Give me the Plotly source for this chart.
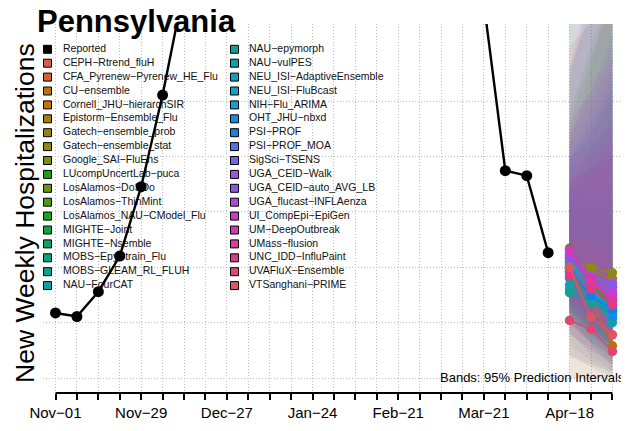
import plotly.graph_objects as go
import pandas as pd

# reported weekly hospitalizations (Saturdays)
reported_dates = pd.date_range("2025-11-01", "2026-04-11", freq="7D")
reported = [587, 555, 779, 1101, 1727, 2554, 3520, 4800, 6100, 6500, 5600, 4700,
            4100, 3900, 3800, 3900, 4000, 4100, 4000, 3800, 3380, 1871, 1826, 1131]

forecast_dates = ["2026-04-18", "2026-04-25", "2026-05-02"]

models = [
    "CEPH-Rtrend_fluH", "CFA_Pyrenew-Pyrenew_HE_Flu", "CU-ensemble",
    "Cornell_JHU-hierarchSIR", "Epistorm-Ensemble_Flu", "Gatech-ensemble_prob",
    "Gatech-ensemble_stat", "Google_SAI-FluEns", "LUcompUncertLab-puca",
    "LosAlamos-DoSDo", "LosAlamos-ThinMint", "LosAlamos_NAU-CModel_Flu",
    "MIGHTE-Joint", "MIGHTE-Nsemble", "MOBS-EpyStrain_Flu", "MOBS-GLEAM_RL_FLUH",
    "NAU-FourCAT", "NAU-epymorph", "NAU-vulPES", "NEU_ISI-AdaptiveEnsemble",
    "NEU_ISI-FluBcast", "NIH-Flu_ARIMA", "OHT_JHU-nbxd", "PSI-PROF", "PSI-PROF_MOA",
    "SigSci-TSENS", "UGA_CEID-Walk", "UGA_CEID-auto_AVG_LB", "UGA_flucast-INFLAenza",
    "UI_CompEpi-EpiGen", "UM-DeepOutbreak", "UMass-flusion", "UNC_IDD-InfluPaint",
    "UVAFluX-Ensemble", "VTSanghani-PRIME",
]

median = [
    [1000, 820, 700], [960, 760, 600], [930, 720, 290], [980, 800, 640],
    [1020, 860, 720], [1050, 960, 900], [1080, 1000, 950], [1040, 900, 820],
    [1170, 880, 680], [1010, 850, 760], [990, 830, 700], [1100, 860, 650],
    [1030, 820, 620], [1000, 790, 600], [960, 770, 560], [900, 740, 540],
    [800, 700, 610], [770, 680, 590], [840, 720, 500], [980, 820, 640],
    [1040, 780, 580], [1060, 800, 600], [1000, 760, 560], [950, 740, 620],
    [1090, 870, 760], [1120, 900, 820], [1110, 920, 860], [1080, 890, 840],
    [1130, 880, 780], [1150, 860, 740], [1160, 900, 700], [960, 860, 690],
    [920, 800, 660], [520, 440, 240], [1000, 550, 390],
]

lower = [
    [620, 430, 300], [560, 380, 240], [500, 300, 100], [640, 460, 320],
    [700, 520, 380], [600, 420, 300], [720, 560, 430], [650, 470, 340],
    [820, 500, 300], [0, 0, 0], [540, 400, 280], [700, 460, 260],
    [520, 320, 170], [580, 390, 240], [600, 420, 290], [480, 320, 200],
    [300, 150, 50], [200, 100, 0], [400, 250, 120], [640, 450, 310],
    [580, 380, 230], [560, 300, 120], [620, 420, 290], [500, 330, 220],
    [680, 490, 380], [740, 540, 420], [420, 200, 60], [660, 480, 380],
    [700, 500, 350], [760, 540, 400], [780, 560, 390], [600, 470, 340],
    [400, 250, 150], [200, 120, 40], [0, 0, 0],
]

upper = [
    [1650, 1700, 1800], [1500, 1450, 1500], [1800, 2100, 2300], [1550, 1500, 1400],
    [1450, 1500, 1600], [1900, 2200, 2600], [2100, 2800, 3600], [1750, 1900, 2100],
    [1700, 1600, 1600], [3600, 4200, 4800], [2300, 2900, 3400], [1800, 1900, 2000],
    [2400, 3000, 3500], [1950, 2300, 2700], [1600, 1550, 1500], [1700, 2000, 2400],
    [3200, 3800, 4500], [2800, 3300, 4000], [2000, 2200, 2500], [1650, 1800, 1950],
    [2200, 2600, 3100], [2700, 3500, 4300], [1700, 1650, 1700], [2100, 2400, 2800],
    [2000, 2300, 2600], [1800, 1950, 2100], [3400, 4000, 4600], [2000, 2100, 2300],
    [2300, 2600, 3000], [2200, 2500, 2900], [1900, 2000, 2200], [1750, 1850, 2000],
    [2800, 3600, 4400], [1300, 1200, 1100], [3000, 3200, 3300],
]

colors = [
    "#D95A4E", "#D2622E", "#C06E12", "#C8700E", "#A67C12", "#9A8212", "#8C8A12",
    "#7C8E12", "#18A018", "#6E9212", "#4E9A12", "#22A022", "#12A044", "#12A064",
    "#12A07C", "#12A08E", "#12A0A0", "#12A090", "#12A0AC", "#12A0C0", "#12A0CC",
    "#12A0D8", "#128EE0", "#1480E6", "#4C74E8", "#7466E8", "#A054E0", "#8858E4",
    "#B446DC", "#CC3CCC", "#D636B6", "#DE3A9E", "#E03A86", "#E04670", "#DE5660",
]

FONT = "Liberation Sans, Arial, sans-serif"
OFF = 8  # page body margin
W, H = 629 - OFF, 431 - OFF
# plot area in screen pixels
PL, PR, PT, PB = 43, 629, 24, 393
L, R, T, B = PL - OFF, 0, PT - OFF, 431 - PB
START = pd.Timestamp("2025-11-01")
PX_PER_DAY = 21.42 / 7
NOV1_PX = 55.5
ZERO_PX = 378
VAL_PER_PX = 500 / 55.4
GRID = "#BDBDBD"
GRIDDASH = "1px,2px"


def px_date(px):
    return START + pd.Timedelta(days=(px - NOV1_PX) / PX_PER_DAY)


def px_val(py):
    return (ZERO_PX - py) * VAL_PER_PX


def px_x(px):
    return (px - PL) / (PR - PL)


def px_y(py):
    return (PB - py) / (PB - PT)


def rgba(hexcol, a):
    h = hexcol.lstrip("#")
    return "rgba(%d,%d,%d,%s)" % (int(h[0:2], 16), int(h[2:4], 16), int(h[4:6], 16), a)


def mm(s):
    return s.replace("-", "\u2212")


fig = go.Figure()

# legend drawn as traces first so the data sits on top of it
names = ["Reported"] + models
sw_cols = ["#000000"] + colors
lx, tx, ly, lt = [], [], [], []
for i, n in enumerate(names):
    col, row = divmod(i, 18)
    lx.append(px_date(47.5 + col * 187))
    tx.append(px_date(63 + col * 186))
    ly.append(px_val(49.3 + row * 13.9))
    lt.append(mm(n))
fig.add_trace(go.Scatter(
    x=tx, y=ly, text=lt, mode="text", textposition="middle right",
    textfont=dict(size=10.5, color="#111111", family=FONT),
    showlegend=False, hoverinfo="skip"))
fig.add_trace(go.Scatter(
    x=lx, y=ly, mode="markers",
    marker=dict(symbol="square", size=8, color=sw_cols, line=dict(color="black", width=1)),
    showlegend=False, hoverinfo="skip"))

# prediction bands
for i, m in enumerate(models):
    fig.add_trace(go.Scatter(
        x=forecast_dates + forecast_dates[::-1],
        y=lower[i] + upper[i][::-1],
        fill="toself", fillcolor=rgba(colors[i], 0.1),
        line=dict(width=0), mode="lines", showlegend=False, hoverinfo="skip"))

# medians
for i, m in enumerate(models):
    fig.add_trace(go.Scatter(
        x=forecast_dates, y=median[i], mode="lines+markers", name=m,
        line=dict(color=colors[i], width=1.5),
        marker=dict(color=colors[i], size=9.5), showlegend=False))

fig.add_trace(go.Scatter(
    x=reported_dates, y=reported, mode="lines+markers", name="Reported",
    line=dict(color="black", width=2.4), marker=dict(color="black", size=11),
    showlegend=False))

fig.update_layout(
    width=W, height=H, margin=dict(l=L, r=R, t=T, b=B),
    paper_bgcolor="white", plot_bgcolor="white",
    font=dict(family=FONT, color="black"),
    showlegend=False,
)

fig.update_xaxes(
    range=[px_date(PL), px_date(PR)],
    tick0="2025-11-01", dtick=28 * 86400000, tickformat="%b\u2212%d",
    ticks="outside", ticklen=6, tickwidth=1.8, tickcolor="black",
    tickfont=dict(size=15, color="black", family=FONT),
    showgrid=True, gridcolor=GRID, griddash=GRIDDASH, gridwidth=1,
    minor=dict(dtick=7 * 86400000, tick0="2025-11-01", ticks="outside", ticklen=6,
               tickwidth=1.8, tickcolor="black", showgrid=True,
               gridcolor=GRID, griddash=GRIDDASH, gridwidth=1),
    showline=False, zeroline=False,
)
fig.update_yaxes(
    range=[px_val(PB), px_val(PT)],
    tickvals=[0, 500, 1000, 1500, 2000, 2500], showticklabels=False, ticks="",
    showgrid=True, gridcolor=GRID, griddash=GRIDDASH, gridwidth=1,
    showline=False, zeroline=False,
)

# axis line only across the tick span
fig.add_shape(type="line", xref="x", yref="paper", x0="2025-11-01", x1="2026-05-02",
              y0=0, y1=0, line=dict(color="black", width=1.8))

fig.add_annotation(text="<b>Pennsylvania</b>", xref="paper", yref="paper",
                   x=px_x(35), y=px_y(22), xanchor="left", yanchor="middle",
                   showarrow=False, font=dict(size=31, color="black", family=FONT))
fig.add_annotation(text="New Weekly Hospitalizations", xref="paper", yref="paper",
                   x=px_x(25), y=px_y(213), xanchor="center", yanchor="middle",
                   textangle=-90, showarrow=False,
                   font=dict(size=26.5, color="black", family=FONT))
fig.add_annotation(text="Bands: 95% Prediction Intervals", xref="paper", yref="paper",
                   x=px_x(627), y=px_y(377), xanchor="right", yanchor="middle",
                   showarrow=False, font=dict(size=13, color="black", family=FONT))

fig.write_html("out.html")
